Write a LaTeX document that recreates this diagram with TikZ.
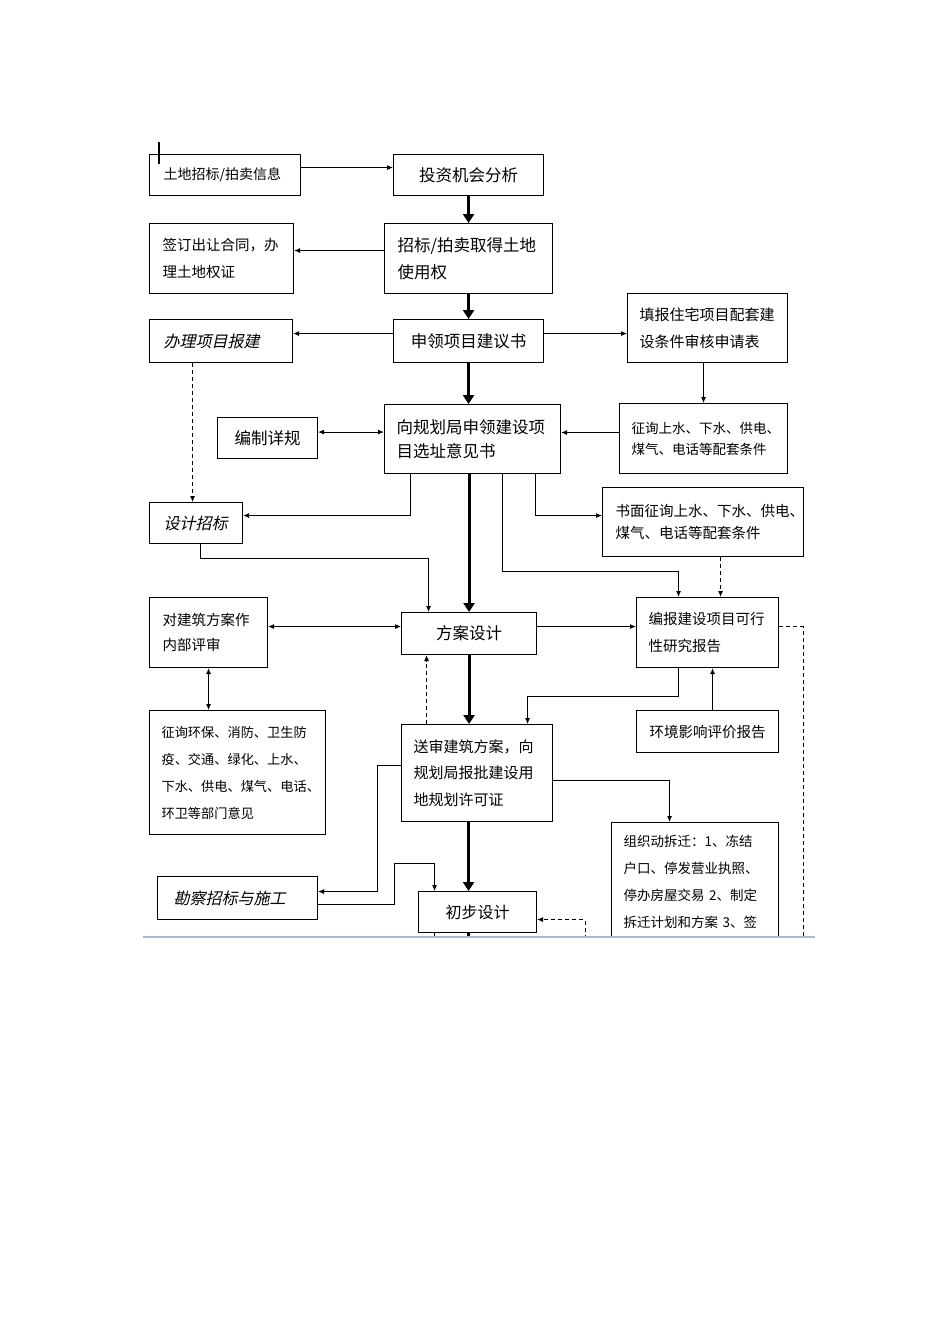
\documentclass[tikz,border=0pt]{standalone}
\usepackage{fontspec}
\newfontfamily\cjk{Noto Sans CJK SC}
\newfontfamily\cjkit{Noto Sans CJK SC}[FakeSlant=0.22]
\usetikzlibrary{arrows.meta}
\definecolor{cutline}{RGB}{165,190,215}
\newcommand\myfs[3]{#1\fontsize{#2}{#3}\selectfont}
\tikzset{
  box/.style={draw, line width=1.1pt, anchor=north west, inner ysep=0pt, align=left},
  cbox/.style={box, align=center},
  arr/.style={line width=0.9pt, -{Latex[length=6pt,width=5pt]}},
  biarr/.style={line width=0.9pt, {Latex[length=6pt,width=5pt]}-{Latex[length=6pt,width=5pt]}},
  dasharr/.style={arr, dash pattern=on 4pt off 3pt},
  dashline/.style={line width=0.9pt, dash pattern=on 4pt off 3pt},
  mainarr/.style={line width=3pt, -{Triangle[length=9pt,width=11pt]}},
  plainline/.style={line width=0.9pt},
}
\begin{document}
\begin{tikzpicture}[x=1pt,y=-1pt]
\useasboundingbox (0,0) rectangle (950,1344);
\fill[white] (0,0) rectangle (950,1344);
\begin{scope}
\clip (0,0) rectangle (950,937);
% nodes
\node[box, minimum width=151pt, minimum height=41pt, text width=123pt, inner xsep=14pt, font=\myfs\cjk{14}{20}] (n1) at (149,154) {土地招标/拍卖信息};
\node[cbox, minimum width=150pt, minimum height=41pt, text width=140pt, inner xsep=5pt, font=\myfs\cjk{16.5}{22}] (n2) at (393,154) {投资机会分析};
\node[box, minimum width=168pt, minimum height=70pt, text width=142pt, inner xsep=13pt, font=\myfs\cjk{16.5}{27}] (n3) at (384,223) {招标/拍卖取得土地\\使用权};
\node[box, minimum width=144pt, minimum height=70pt, text width=118pt, inner xsep=13pt, font=\myfs\cjk{14.5}{27}] (n4) at (149,223) {签订出让合同，办\\理土地权证};
\node[cbox, minimum width=150pt, minimum height=43pt, text width=140pt, inner xsep=5pt, font=\myfs\cjk{16.5}{22}] (n5) at (393,319) {申领项目建议书};
\node[box, minimum width=143pt, minimum height=43pt, text width=115pt, inner xsep=14pt, font=\myfs\cjkit{16}{22}] (n6) at (149,319) {办理项目报建};
\node[box, minimum width=160pt, minimum height=69pt, text width=136pt, inner xsep=12pt, font=\myfs\cjk{15}{27}] (n7) at (627,293) {填报住宅项目配套建\\设条件审核申请表};
\node[box, minimum width=176pt, minimum height=69pt, text width=152pt, inner xsep=12pt, font=\myfs\cjk{16.5}{24}] (n8) at (384,404) {向规划局申领建设项\\目选址意见书};
\node[cbox, minimum width=100pt, minimum height=41pt, text width=90pt, inner xsep=5pt, font=\myfs\cjk{16.5}{22}] (n9) at (217,417) {编制详规};
\node[box, minimum width=168pt, minimum height=70pt, text width=144pt, inner xsep=12pt, font=\myfs\cjk{13.5}{21}] (n10) at (619,403) {征询上水、下水、供电、\\煤气、电话等配套条件};
\node[box, minimum width=201pt, minimum height=69pt, text width=175pt, inner xsep=13pt, font=\myfs\cjk{14.5}{22}] (n11) at (602,487) {书面征询上水、下水、供电、\\煤气、电话等配套条件};
\node[box, minimum width=93pt, minimum height=41pt, text width=65pt, inner xsep=14pt, font=\myfs\cjkit{16}{22}] (n12) at (149,502) {设计招标};
\node[cbox, minimum width=135pt, minimum height=42pt, text width=125pt, inner xsep=5pt, font=\myfs\cjk{16.5}{22}] (n13) at (401,612) {方案设计};
\node[box, minimum width=142pt, minimum height=70pt, text width=118pt, inner xsep=12pt, font=\myfs\cjk{14.5}{27}] (n14) at (636,597) {编报建设项目可行\\性研究报告};
\node[box, minimum width=118pt, minimum height=70pt, text width=92pt, inner xsep=13pt, font=\myfs\cjk{14.5}{25}] (n15) at (149,597) {对建筑方案作\\内部评审};
\node[box, minimum width=176pt, minimum height=124pt, text width=152pt, inner xsep=12pt, font=\myfs\cjk{13.2}{27}] (n16) at (149,710) {征询环保、消防、卫生防\\疫、交通、绿化、上水、\\下水、供电、煤气、电话、\\环卫等部门意见};
\node[box, minimum width=151pt, minimum height=97pt, text width=127pt, inner xsep=12pt, font=\myfs\cjk{15}{26.5}] (n17) at (401,724) {送审建筑方案，向\\规划局报批建设用\\地规划许可证};
\node[cbox, minimum width=142pt, minimum height=42pt, text width=132pt, inner xsep=5pt, font=\myfs\cjk{14.5}{22}] (n18) at (636,710) {环境影响评价报告};
\node[box, text width=143pt, inner xsep=12pt, inner ysep=13pt, font=\myfs\cjk{13.5}{27}] (n19) at (611,822) {组织动拆迁：1、冻结\\户口、停发营业执照、\\停办房屋交易 2、制定\\拆迁计划和方案 3、签};
\node[box, minimum width=160pt, minimum height=43pt, text width=128pt, inner xsep=16pt, font=\myfs\cjkit{16}{22}] (n20) at (157,876) {勘察招标与施工};
\node[cbox, minimum width=118pt, minimum height=41pt, text width=108pt, inner xsep=5pt, font=\myfs\cjk{16}{22}] (n21) at (418,891) {初步设计};
% free ends below the cut
\coordinate (cut1) at (803,960);
\coordinate (cut2) at (585,960);
\coordinate (cut3) at (434,960);
\coordinate (cut4) at (468,960);
% connectors
\draw[arr] ([yshift=7.5pt]n1.east) -- ([yshift=7.5pt]n2.west);
\draw[mainarr] (n2.south) -- (n3.north);
\draw[arr] ([yshift=8pt]n3.west) -- ([yshift=8pt]n4.east);
\draw[mainarr] (n3.south) -- (n5.north);
\draw[arr] ([yshift=7.5pt]n5.west) -- ([yshift=7.5pt]n6.east);
\draw[arr] ([yshift=7.5pt]n5.east) -- ([yshift=7.5pt]n5.east -| n7.west);
\draw[mainarr] (n5.south) -- (n5.south |- n8.north);
\draw[arr] (n10.north |- n7.south) -- (n10.north);
\draw[arr] ([yshift=6pt]n10.west) -- ([yshift=6pt]n10.west -| n8.east);
\draw[biarr] ([yshift=6pt]n9.east) -- ([yshift=6pt]n9.east -| n8.west);
\draw[arr] ([xshift=63pt]n8.south) |- ([yshift=6.5pt]n11.west);
\draw[arr] ([xshift=-62pt]n8.south) |- ([yshift=7.5pt]n12.east);
\draw[dasharr] ([xshift=-28.5pt]n6.south) -- ([xshift=-28.5pt]n6.south |- n12.north);
\draw[mainarr] (n13.north |- n8.south) -- (n13.north);
\draw[arr] ([xshift=4.5pt]n12.south) -- ++(0,14) -| ([xshift=-40.5pt]n13.north);
\draw[arr] ([xshift=30pt]n8.south) -- ++(0,97) -| ([xshift=-29pt]n14.north);
\draw[dasharr] ([xshift=17.5pt]n11.south) -- ([xshift=17.5pt]n11.south |- n14.north);
\draw[arr] ([yshift=7pt]n13.east) -- ([yshift=7pt]n13.east -| n14.west);
\draw[biarr] ([yshift=6pt]n15.east) -- ([yshift=6pt]n15.east -| n13.west);
\draw[biarr] (n15.south) -- (n15.south |- n16.north);
\draw[dashline] ([yshift=6pt]n14.east) -| (cut1);
\draw[mainarr] (n13.south) -- (n13.south |- n17.north);
\draw[dasharr] ([xshift=-50.5pt]n17.north) -- ([xshift=-50.5pt]n17.north |- n13.south);
\draw[arr] ([xshift=-29pt]n14.south) -- ++(0,28) -| ([xshift=50.5pt]n17.north);
\draw[arr] ([xshift=5pt]n18.north) -- ([xshift=5pt]n18.north |- n14.south);
\draw[arr] ([yshift=-7.5pt]n17.east) -| ([xshift=-25.5pt]n19.north);
\draw[arr] ([yshift=7.5pt]n17.west) -- ++(-24,0) |- ([yshift=6.5pt]n20.east);
\draw[arr] ([yshift=-6.5pt]n20.east) -- ++(76,0) -- ++(0,-41) -| ([xshift=-43pt]n21.north);
\draw[mainarr] ([xshift=-8.5pt]n17.south) -- ([xshift=-8.5pt]n17.south |- n21.north);
\draw[dasharr] (cut2) |- ([yshift=-7.5pt]n21.east);
\draw[plainline] (cut3 |- n21.south) -- (cut3);
\draw[line width=3pt] (cut4 |- n21.south) -- (cut4);
% text cursor mark
\draw[line width=2pt] (159,142) -- (159,164);
\end{scope}
% edge of the cut-off page
\draw[cutline, line width=1.5pt] (143,937) -- (815,937);
\end{tikzpicture}
\end{document}
